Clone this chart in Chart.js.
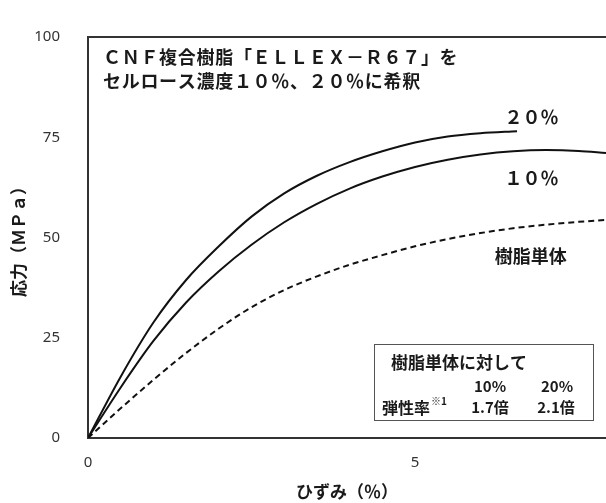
<!DOCTYPE html>
<html lang="ja">
<head>
  <meta charset="UTF-8">
  <title>応力-ひずみ</title>
  <style>
    html, body { margin: 0; padding: 0; background: #fff; }
    #wrap { width: 606px; height: 503px; }
  </style>
</head>
<body>
  <div id="wrap"><canvas id="myChart" width="606" height="503"></canvas></div>
  <script src="https://cdn.jsdelivr.net/npm/chart.js@4.4.1/dist/chart.umd.min.js"></script>
  <script>
    // strain (%) / stress (MPa)
    const strain20 = [0, 0.5, 1.0, 1.5, 2.0, 2.5, 3.0, 3.5, 4.0, 4.5, 5.0, 5.5, 6.0, 6.56];
    const stress20 = [0, 15.3, 28.8, 39.4, 47.8, 55.2, 61.0, 65.4, 68.8, 71.5, 73.7, 75.2, 76.0, 76.5];

    const strain10 = [0, 0.5, 1.0, 1.5, 2.0, 2.5, 3.0, 3.5, 4.0, 4.5, 5.0, 5.5, 6.0, 6.5, 7.0, 7.5, 7.92];
    const stress10 = [0, 12.6, 24.2, 33.8, 41.6, 48.2, 53.8, 58.4, 62.2, 65.2, 67.6, 69.4, 70.7, 71.5, 71.8, 71.6, 71.1];

    const strainResin = [0, 0.5, 1.0, 1.5, 2.0, 2.5, 3.0, 3.5, 4.0, 4.5, 5.0, 5.5, 6.0, 6.5, 7.0, 7.5, 7.92];
    const stressResin = [0, 7.4, 14.5, 21.2, 27.3, 32.6, 36.9, 40.3, 43.2, 45.6, 47.8, 49.6, 51.1, 52.3, 53.2, 53.9, 54.4];

    const xTicks = [0, 5];
    const yTicks = [0, 25, 50, 75, 100];

    const titleLines = ['ＣＮＦ複合樹脂「ＥＬＬＥＸ－Ｒ６７」を', 'セルロース濃度１０％、２０％に希釈'];
    const curveLabels = [
      { text: '２０％', x: 6.78, y: 80 },
      { text: '１０％', x: 6.78, y: 64.7 },
      { text: '樹脂単体', x: 6.77, y: 45.4 }
    ];

    const pts = (xs, ys) => xs.map((v, i) => ({ x: v, y: ys[i] }));

    const jp = '"Noto Sans CJK JP", "Noto Sans", sans-serif';

    const overlay = {
      id: 'overlay',
      afterDraw(chart) {
        const { ctx, chartArea: a, scales: { x, y } } = chart;
        ctx.save();
        // top frame line
        ctx.strokeStyle = '#333';
        ctx.lineWidth = 2;
        ctx.beginPath();
        ctx.moveTo(a.left, a.top);
        ctx.lineTo(a.right, a.top);
        ctx.stroke();

        // heading
        ctx.fillStyle = '#1a1a1a';
        ctx.font = 'bold 18px ' + jp;
        ctx.textAlign = 'left';
        ctx.textBaseline = 'middle';
        ctx.letterSpacing = '0.7px';
        titleLines.forEach((t, i) => ctx.fillText(t, a.left + 15, a.top + 20 + i * 24));
        ctx.letterSpacing = '0px';

        // curve labels
        ctx.textAlign = 'center';
        curveLabels.forEach(l => ctx.fillText(l.text, x.getPixelForValue(l.x), y.getPixelForValue(l.y)));

        // inset box
        const bw = 219, bh = 76;
        const bx = a.right - 13 - bw, by = a.bottom - 18 - bh;
        ctx.fillStyle = '#fff';
        ctx.fillRect(bx, by, bw, bh);
        ctx.strokeStyle = '#555';
        ctx.lineWidth = 1;
        ctx.strokeRect(bx + 0.5, by + 0.5, bw, bh);

        ctx.fillStyle = '#1a1a1a';
        ctx.font = 'bold 17px ' + jp;
        ctx.textAlign = 'left';
        ctx.fillText('樹脂単体に対して', bx + 17, by + 19);
        ctx.font = 'bold 15px ' + jp;
        ctx.textAlign = 'center';
        ctx.fillText('10%', bx + 116, by + 42);
        ctx.fillText('20%', bx + 183, by + 42);
        ctx.fillText('1.7倍', bx + 116, by + 63);
        ctx.fillText('2.1倍', bx + 182, by + 63);
        ctx.textAlign = 'left';
        ctx.font = 'bold 16px ' + jp;
        ctx.fillText('弾性率', bx + 8, by + 64);
        ctx.font = 'bold 10px ' + jp;
        ctx.fillText('※1', bx + 57, by + 57);
        ctx.restore();
      }
    };

    const ctx = document.getElementById('myChart');

    const myChart = new Chart(ctx, {
      type: 'line',
      data: {
        datasets: [
          { label: '20%', data: pts(strain20, stress20), borderColor: '#111', borderWidth: 2 },
          { label: '10%', data: pts(strain10, stress10), borderColor: '#111', borderWidth: 2 },
          { label: '樹脂単体', data: pts(strainResin, stressResin), borderColor: '#111', borderWidth: 2, borderDash: [6, 4] }
        ]
      },
      options: {
        responsive: false,
        animation: false,
        layout: { padding: { top: 13, right: 0, bottom: 0, left: 0 } },
        elements: {
          point: { radius: 0 },
          line: { cubicInterpolationMode: 'monotone', fill: false }
        },
        plugins: { legend: { display: false }, tooltip: { enabled: false } },
        scales: {
          x: {
            type: 'linear',
            min: 0,
            max: 7.92,
            afterBuildTicks: s => { s.ticks = xTicks.map(v => ({ value: v })); },
            afterFit: s => { s.height = 65; },
            grid: { display: false, drawTicks: false },
            border: { display: true, color: '#333', width: 2 },
            ticks: { padding: 16, color: '#333', font: { family: 'Noto Sans', size: 15 } },
            title: {
              display: true,
              text: 'ひずみ（％）',
              color: '#1a1a1a',
              padding: { top: 0, bottom: 1 },
              font: { family: jp, size: 17, weight: 'bold' }
            }
          },
          y: {
            min: 0,
            max: 100,
            afterBuildTicks: s => { s.ticks = yTicks.map(v => ({ value: v })); },
            afterFit: s => { s.width = 88; },
            grid: { display: false, drawTicks: false },
            border: { display: true, color: '#333', width: 2 },
            ticks: { padding: 28, color: '#333', font: { family: 'Noto Sans', size: 15 } },
            title: {
              display: true,
              text: '応力（ＭＰａ）',
              color: '#1a1a1a',
              padding: { top: 8, bottom: 0 },
              font: { family: jp, size: 17, weight: 'bold' }
            }
          }
        }
      },
      plugins: [overlay]
    });
  </script>
</body>
</html>
